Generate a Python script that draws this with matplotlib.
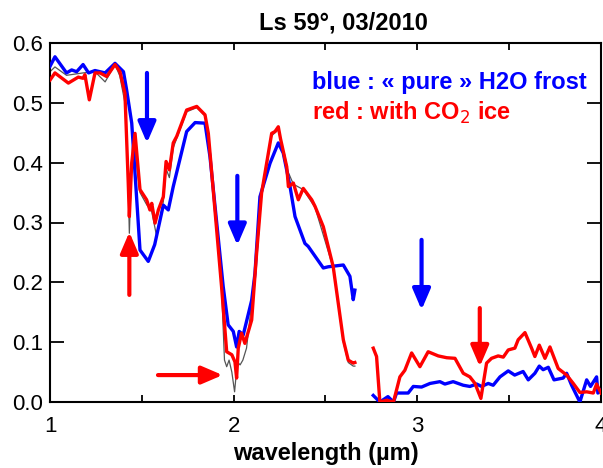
import matplotlib
matplotlib.use("Agg")
import matplotlib.pyplot as plt
import numpy as np

plt.rcParams["font.family"] = ["Liberation Sans", "DejaVu Sans"]

# Spectra (wavelength in um, reflectance)
blue_wl_a = [1.00, 1.027, 1.09, 1.118, 1.145, 1.18, 1.21, 1.245, 1.30, 1.354, 1.40, 1.417,
             1.445, 1.463, 1.49, 1.535, 1.57, 1.617, 1.644, 1.671, 1.744, 1.79, 1.844, 1.871,
             1.943, 1.97, 1.998, 2.016, 2.03, 2.052, 2.098, 2.116, 2.143, 2.198, 2.243, 2.27,
             2.307, 2.334, 2.388, 2.406, 2.488, 2.515, 2.597, 2.633, 2.651, 2.66]
blue_rf_a = [0.561, 0.577, 0.550, 0.555, 0.552, 0.564, 0.550, 0.554, 0.550, 0.566, 0.552, 0.522,
             0.466, 0.382, 0.254, 0.235, 0.263, 0.329, 0.321, 0.360, 0.452, 0.467, 0.466, 0.410,
             0.193, 0.129, 0.118, 0.092, 0.118, 0.112, 0.170, 0.215, 0.343, 0.399, 0.433, 0.416,
             0.360, 0.310, 0.265, 0.260, 0.224, 0.226, 0.229, 0.210, 0.171, 0.187]

blue_wl_b = [2.76, 2.796, 2.84, 2.87, 2.887, 2.95, 2.978, 3.023, 3.069, 3.123, 3.15, 3.195,
             3.25, 3.286, 3.323, 3.35, 3.386, 3.413, 3.45, 3.495, 3.53, 3.576, 3.604, 3.64,
             3.664, 3.685, 3.713, 3.744, 3.794, 3.813, 3.84, 3.885, 3.922, 3.943, 3.976, 3.983, 4.0]
blue_rf_b = [0.011, 0.0, 0.009, 0.0, 0.015, 0.015, 0.026, 0.025, 0.031, 0.034, 0.030, 0.034,
             0.028, 0.026, 0.030, 0.026, 0.031, 0.028, 0.042, 0.052, 0.045, 0.051, 0.037, 0.048,
             0.060, 0.054, 0.058, 0.037, 0.040, 0.048, 0.028, 0.0, 0.037, 0.026, 0.042, 0.015, 0.020]

red_wl_a = [1.00, 1.027, 1.10, 1.127, 1.154, 1.18, 1.19, 1.214, 1.245, 1.272, 1.309, 1.354,
            1.381, 1.408, 1.426, 1.432, 1.445, 1.463, 1.49, 1.526, 1.544, 1.554, 1.572, 1.59,
            1.617, 1.632, 1.65, 1.671, 1.69, 1.744, 1.799, 1.844, 1.862, 1.934, 1.962, 1.99,
            2.007, 2.016, 2.025, 2.043, 2.061, 2.098, 2.125, 2.152, 2.207, 2.225, 2.243, 2.255,
            2.289, 2.298, 2.325, 2.352, 2.379, 2.425, 2.443, 2.488, 2.542, 2.597, 2.624, 2.651, 2.66]
red_rf_a = [0.538, 0.550, 0.533, 0.538, 0.543, 0.541, 0.547, 0.505, 0.550, 0.550, 0.544, 0.564,
            0.552, 0.516, 0.366, 0.310, 0.400, 0.449, 0.355, 0.338, 0.321, 0.332, 0.299, 0.321,
            0.343, 0.402, 0.388, 0.433, 0.444, 0.488, 0.494, 0.480, 0.449, 0.193, 0.084, 0.079,
            0.067, 0.040, 0.090, 0.115, 0.098, 0.137, 0.249, 0.349, 0.449, 0.452, 0.460, 0.440,
            0.393, 0.360, 0.366, 0.338, 0.357, 0.338, 0.327, 0.293, 0.226, 0.104, 0.070, 0.065, 0.066]

red_wl_b = [2.76, 2.778, 2.796, 2.833, 2.87, 2.905, 2.932, 2.969, 3.014, 3.059, 3.114, 3.16,
            3.205, 3.25, 3.286, 3.314, 3.346, 3.377, 3.404, 3.44, 3.468, 3.495, 3.531, 3.549,
            3.586, 3.622, 3.64, 3.664, 3.695, 3.722, 3.767, 3.813, 3.849, 3.885, 3.922, 3.958,
            3.976, 4.0]
red_rf_b = [0.090, 0.076, 0.0, 0.003, 0.0, 0.042, 0.053, 0.082, 0.059, 0.084, 0.077, 0.074,
            0.073, 0.048, 0.042, 0.031, 0.006, 0.065, 0.073, 0.077, 0.075, 0.087, 0.090, 0.104,
            0.116, 0.090, 0.076, 0.095, 0.073, 0.092, 0.056, 0.045, 0.031, 0.016, 0.017, 0.015,
            0.030, 0.015]

# thin grey spectrum lying just under the red one
grey_wl = [1.00, 1.027, 1.09, 1.18, 1.245, 1.30, 1.354, 1.38, 1.408, 1.426, 1.432, 1.445,
           1.453, 1.47, 1.49, 1.526, 1.554, 1.58, 1.617, 1.632, 1.65, 1.671, 1.744, 1.799,
           1.844, 1.862, 1.934, 1.95, 1.962, 1.975, 1.99, 2.005, 2.02, 2.035, 2.05, 2.07,
           2.107, 2.125, 2.152, 2.207, 2.243, 2.289, 2.325, 2.379, 2.443, 2.542, 2.597,
           2.624, 2.651, 2.66]
grey_rf = [0.552, 0.560, 0.546, 0.550, 0.552, 0.535, 0.564, 0.545, 0.500, 0.360, 0.282, 0.400,
           0.450, 0.400, 0.350, 0.330, 0.318, 0.278, 0.335, 0.390, 0.375, 0.425, 0.485, 0.492,
           0.478, 0.449, 0.190, 0.070, 0.059, 0.070, 0.050, 0.017, 0.067, 0.062, 0.070, 0.090,
           0.190, 0.240, 0.345, 0.445, 0.455, 0.390, 0.364, 0.355, 0.325, 0.224, 0.100,
           0.066, 0.060, 0.060]

# arrows: (tail x, tail y, tip x, tip y)
blue_arrows = [(1.528, 0.55, 1.528, 0.433),
               (2.02, 0.378, 2.02, 0.262),
               (3.023, 0.271, 3.023, 0.154)]
red_arrows = [(1.432, 0.179, 1.432, 0.284),
              (1.588, 0.045, 1.94, 0.045),
              (3.34, 0.157, 3.34, 0.059)]

BLUE = "#0000ff"
RED = "#ff0000"

fig = plt.figure(figsize=(6.03, 4.68), dpi=100)
ax = fig.add_axes([50 / 603, 1 - 402 / 468, 551 / 603, 359 / 468])

ax.plot(grey_wl, grey_rf, color="#555555", linewidth=0.9, zorder=2)
ax.plot(blue_wl_a, blue_rf_a, color=BLUE, linewidth=2.4, zorder=3)
ax.plot(blue_wl_b, blue_rf_b, color=BLUE, linewidth=2.4, zorder=3)
ax.plot(red_wl_a, red_rf_a, color=RED, linewidth=2.4, zorder=4)
ax.plot(red_wl_b, red_rf_b, color=RED, linewidth=2.4, zorder=4)

for arrows, col in [(blue_arrows, BLUE), (red_arrows, RED)]:
    for x0, y0, x1, y1 in arrows:
        ax.annotate("", xy=(x1, y1), xytext=(x0, y0),
                    arrowprops=dict(arrowstyle="-|>,head_length=0.7,head_width=0.3",
                                    color=col, lw=3, mutation_scale=18,
                                    shrinkA=0, shrinkB=0),
                    zorder=5)

ax.set_xlim(1, 4)
ax.set_ylim(0, 0.6)
ax.set_xticks([1, 2, 3, 4])
ax.set_xticks([1.5, 2.5, 3.5], minor=True)
ax.set_yticks(np.arange(0, 0.61, 0.1))
ax.yaxis.set_major_formatter(matplotlib.ticker.FormatStrFormatter("%.1f"))
ax.tick_params(axis="x", which="both", direction="in", top=True, length=5, width=1.3,
               labelsize=16, pad=10)
ax.tick_params(axis="y", direction="in", right=True, length=10, width=1.3,
               labelsize=16, pad=5)
for spine in ax.spines.values():
    spine.set_linewidth(1.5)

ax.set_xlabel("wavelength (µm)", fontsize=17, fontweight="bold", labelpad=4)

ax.text(0.475, 0.889, "blue : « pure » H2O frost", transform=ax.transAxes,
        color=BLUE, fontsize=17, fontweight="bold", va="center")
ax.text(0.475, 0.806, "red : with CO$_2$ ice", transform=ax.transAxes,
        color=RED, fontsize=17, fontweight="bold", va="center")

fig.text(0.570, 0.951, "Ls 59°, 03/2010", ha="center", va="center",
         fontsize=17, fontweight="bold")

fig.savefig("out.png", dpi=100)
